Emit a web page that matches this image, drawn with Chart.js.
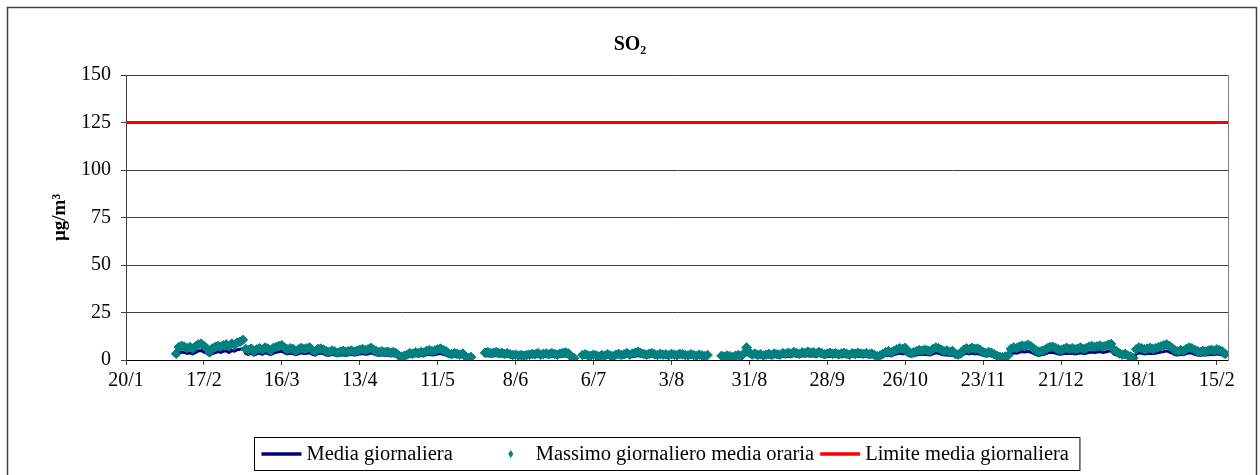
<!DOCTYPE html>
<html>
<head>
<meta charset="utf-8">
<script src="https://cdn.jsdelivr.net/npm/chart.js@4.4.0/dist/chart.umd.min.js"></script>
<style>
  html, body { margin: 0; padding: 0; background: #fff; }
  #wrap { width: 1260px; height: 475px; }
</style>
</head>
<body>
<div id="wrap"><canvas id="so2Chart" width="1260" height="475"></canvas></div>
<script>
// x axis: days counted from 20/1, one tick every 28 days
const xTickLabels = ['20/1', '17/2', '16/3', '13/4', '11/5', '8/6', '6/7', '3/8', '31/8', '28/9', '26/10', '23/11', '21/12', '18/1', '15/2'];
const tickStepDays = 28;
const firstDay = 18;   // first measured day (7/2)
const limiteGiornaliero = 125;

// Massimo giornaliero media oraria (µg/m³), one value per day, null = no data
const massimoOrario = [
  3.3, 6.8, 7.5, 7.0, 6.2, 6.8, 6.0, 7.2, 8.2, 8.6, 7.4, 6.2, 4.2, 6.0,
  6.8, 7.4, 7.0, 7.8, 8.2, 7.2, 8.6, 8.0, 9.2, 9.6, 10.6, 5.8, 5.2, 6.0,
  4.6, 5.6, 6.2, 5.4, 6.6, 6.0, 5.0, 6.4, 6.8, 7.4, 7.8, 6.4, 5.6, 6.2,
  5.8, 4.8, 5.6, 6.4, 5.8, 6.2, 6.6, 5.2, 4.6, 5.8, 6.0, 5.4, 4.6, 4.2,
  5.0, 4.6, 3.8, 4.4, 4.8, 4.2, 4.6, 5.0, 4.4, 4.8, 5.4, 5.8, 5.2, 5.6,
  6.4, 5.4, 4.6, 4.2, 4.6, 4.0, 4.4, 3.8, 4.2, 3.6, 2.4, 1.8, 2.2, 2.8,
  3.6, 3.2, 4.0, 3.6, 4.2, 3.8, 4.8, 5.2, 4.6, 5.0, 5.6, 6.0, 5.2, 4.6,
  3.4, 3.0, 3.6, 3.2, 2.8, 3.4, 1.8, 1.2, 1.6,
  null, null, null, null,
  3.8, 4.2, 3.6, 3.8, 4.2, 3.6, 3.8, 3.2, 3.6, 3.0, 2.6, 2.8, 2.4, 2.6,
  2.2, 2.6, 2.8, 3.2, 3.0, 3.6, 2.8, 3.2, 3.4, 3.0, 3.6, 3.2, 2.8, 3.4,
  3.6, 4.0, 3.4, 1.6, 1.0,
  null, null,
  2.6, 3.0, 2.4, 2.2, 2.8, 2.4, 1.8, 2.6, 2.2, 3.0, 2.4, 2.0, 2.8, 3.2,
  2.6, 3.0, 3.6, 2.8, 3.4, 3.8, 4.4, 3.6, 3.2, 2.8, 3.2, 3.6, 3.0, 2.6,
  3.2, 2.8, 3.0, 2.4, 3.2, 2.8, 2.6, 3.2, 3.0, 2.6, 2.4, 3.0, 2.6, 2.2, 2.8, 2.4, 2.0, 2.6,
  null, null, null, null,
  2.2, 1.8, 2.4, 2.0, 1.6, 2.2, 2.6, 2.0, 3.4, 6.6, 4.2, 2.8, 3.4, 2.6,
  3.0, 2.4, 2.8, 3.2, 2.6, 3.4, 3.0, 2.8, 3.6, 3.2, 3.8, 3.4, 4.2, 3.6,
  3.2, 4.0, 3.6, 4.4, 3.8, 4.0, 3.4, 4.2, 3.6, 3.0, 3.4, 3.8, 3.2, 3.6,
  3.0, 3.4, 3.8, 3.2, 2.8, 3.6, 3.2, 3.8, 3.4, 3.2, 3.6, 3.0, 3.4, 2.6,
  2.0, 2.4, 3.2, 4.2, 4.6, 4.0, 4.8, 5.6, 6.2, 5.8, 6.4, 4.2, 3.6, 4.0,
  4.6, 5.2, 4.8, 5.4, 5.0, 4.6, 5.8, 6.6, 6.2, 5.4, 4.6, 5.0, 4.2, 4.8,
  3.2, 2.8, 3.4, 5.4, 6.2, 5.6, 6.4, 5.8, 6.0, 5.2, 4.2, 3.6, 4.2, 3.8,
  3.0, 2.2, 1.6, 1.4, 1.8, 2.4, 5.8, 6.6, 6.2, 7.0, 7.6, 7.2, 8.0, 7.4,
  6.2, 5.0, 4.4, 4.8, 5.2, 6.2, 6.8, 7.0, 6.4, 5.6, 5.2, 5.8, 6.4, 5.8,
  6.2, 5.6, 6.0, 6.6, 5.8, 6.2, 7.0, 7.4, 6.8, 7.2, 7.6, 7.0, 7.4, 8.0,
  8.4, 5.4, 4.6, 3.4, 2.8, 3.2, 2.4, 1.8, 1.0, 5.6, 6.6, 6.2, 5.6, 6.0,
  6.4, 5.8, 6.2, 6.8, 7.2, 7.8, 8.2, 7.4, 6.2, 5.0, 4.6, 5.2, 4.8, 5.8,
  6.6, 6.2, 5.4, 4.6, 4.2, 4.8, 4.4, 5.0, 5.4, 4.8, 5.6, 5.2, 4.4, 3.2
];

// Media giornaliera (µg/m³), same days
const mediaGiornaliera = [
  1.8, 3.4, 4.2, 4.0, 3.4, 3.8, 3.2, 4.0, 4.8, 5.0, 4.2, 3.6, 2.4, 3.4,
  3.8, 4.4, 4.0, 4.6, 4.8, 4.0, 5.0, 4.6, 5.4, 5.6, 6.0, 3.4, 3.0, 3.6,
  2.6, 3.2, 3.6, 3.0, 3.8, 3.4, 2.8, 3.6, 4.0, 4.4, 4.6, 3.8, 3.2, 3.6,
  3.4, 2.8, 3.2, 3.8, 3.4, 3.6, 3.8, 3.0, 2.6, 3.4, 3.6, 3.2, 2.6, 2.4,
  3.0, 2.6, 2.2, 2.6, 2.8, 2.4, 2.8, 3.0, 2.6, 2.8, 3.2, 3.4, 3.0, 3.2,
  3.8, 3.2, 2.8, 2.4, 2.8, 2.4, 2.6, 2.2, 2.4, 2.0, 1.4, 1.0, 1.2, 1.6,
  2.0, 1.8, 2.4, 2.0, 2.4, 2.2, 2.8, 3.0, 2.6, 2.8, 3.2, 3.4, 3.0, 2.6,
  2.0, 1.8, 2.0, 1.8, 1.6, 2.0, 1.0, 0.8, 1.0,
  null, null, null, null,
  2.2, 2.4, 2.0, 2.2, 2.4, 2.0, 2.2, 1.8, 2.0, 1.8, 1.4, 1.6, 1.4, 1.4,
  1.2, 1.4, 1.6, 1.8, 1.6, 2.0, 1.6, 1.8, 2.0, 1.6, 2.0, 1.8, 1.6, 2.0,
  2.0, 2.2, 1.8, 1.0, 0.6,
  null, null,
  1.4, 1.6, 1.4, 1.2, 1.6, 1.4, 1.0, 1.4, 1.2, 1.6, 1.4, 1.2, 1.6, 1.8,
  1.4, 1.6, 2.0, 1.6, 1.8, 2.0, 2.4, 2.0, 1.8, 1.6, 1.8, 2.0, 1.6, 1.4,
  1.8, 1.6, 1.6, 1.4, 1.8, 1.6, 1.4, 1.8, 1.6, 1.4, 1.4, 1.6, 1.4, 1.2, 1.6, 1.4, 1.2, 1.4,
  null, null, null, null,
  1.2, 1.0, 1.4, 1.2, 1.0, 1.2, 1.4, 1.2, 1.8, 3.2, 2.2, 1.6, 1.8, 1.4,
  1.6, 1.4, 1.6, 1.8, 1.4, 1.8, 1.6, 1.6, 2.0, 1.8, 2.0, 1.8, 2.4, 2.0,
  1.8, 2.2, 2.0, 2.4, 2.0, 2.2, 1.8, 2.4, 2.0, 1.6, 1.8, 2.0, 1.8, 2.0,
  1.6, 1.8, 2.0, 1.8, 1.6, 2.0, 1.8, 2.0, 1.8, 1.8, 2.0, 1.6, 1.8, 1.4,
  1.2, 1.4, 1.8, 2.4, 2.6, 2.2, 2.8, 3.2, 3.6, 3.2, 3.6, 2.4, 2.0, 2.2,
  2.6, 3.0, 2.8, 3.0, 2.8, 2.6, 3.2, 3.8, 3.6, 3.0, 2.6, 2.8, 2.4, 2.6,
  1.8, 1.6, 2.0, 3.0, 3.6, 3.2, 3.6, 3.2, 3.4, 3.0, 2.4, 2.0, 2.4, 2.2,
  1.8, 1.2, 1.0, 0.8, 1.0, 1.4, 3.2, 3.8, 3.6, 4.0, 4.4, 4.2, 4.6, 4.2,
  3.6, 2.8, 2.4, 2.8, 3.0, 3.6, 4.0, 4.0, 3.6, 3.2, 3.0, 3.4, 3.6, 3.4,
  3.6, 3.2, 3.4, 3.8, 3.4, 3.6, 4.0, 4.2, 4.0, 4.2, 4.4, 4.0, 4.2, 4.6,
  4.8, 3.2, 2.6, 2.0, 1.6, 1.8, 1.4, 1.0, 0.6, 3.2, 3.8, 3.6, 3.2, 3.4,
  3.6, 3.4, 3.6, 4.0, 4.2, 4.4, 4.8, 4.2, 3.6, 2.8, 2.6, 3.0, 2.8, 3.4,
  3.8, 3.6, 3.0, 2.6, 2.4, 2.8, 2.6, 2.8, 3.0, 2.8, 3.2, 3.0, 2.6, 1.8
];

const FONT = '"Liberation Serif", "Times New Roman", serif';
const NAVY = '#000080';
const TEAL = '#008080';
const RED = '#ff0000';

const xMax = 396;
const toPoints = arr => arr.map((v, i) => ({ x: firstDay + i, y: v }));

const legendItems = [
  { text: 'Media giornaliera', kind: 'line', color: NAVY, gapAfter: 38 },
  { text: 'Massimo giornaliero media oraria', kind: 'diamond', color: TEAL, gapAfter: 6 },
  { text: 'Limite media giornaliera', kind: 'line', color: RED, gapAfter: 0 }
];

const framePlugin = {
  id: 'frame',
  beforeDraw(chart) {
    const ctx = chart.ctx;
    ctx.save();
    ctx.fillStyle = '#fff';
    ctx.fillRect(0, 0, chart.width, chart.height);
    ctx.restore();
  },
  afterDraw(chart) {
    const { ctx, chartArea: a } = chart;
    ctx.save();
    // outer frame
    ctx.strokeStyle = '#404040';
    ctx.lineWidth = 1.5;
    ctx.strokeRect(7.5, 7.5, 1249, 500);

    // legend
    ctx.font = '20.5px ' + FONT;
    ctx.textBaseline = 'middle';
    const symW = 40, textGap = 5;
    let total = 0;
    legendItems.forEach(it => { total += symW + textGap + ctx.measureText(it.text).width + it.gapAfter; });
    const boxW = total + 18;
    const boxLeft = Math.round((a.left + a.right) / 2 - 10 - boxW / 2) + 0.5;
    const boxTop = a.bottom + 77.5;
    const boxH = 33;
    ctx.strokeStyle = '#000';
    ctx.lineWidth = 1;
    ctx.strokeRect(boxLeft, boxTop, boxW, boxH);
    const cy = boxTop + boxH / 2;
    let x = boxLeft + 7;
    legendItems.forEach(it => {
      if (it.kind === 'line') {
        ctx.strokeStyle = it.color;
        ctx.lineWidth = 3.5;
        ctx.beginPath();
        ctx.moveTo(x, cy);
        ctx.lineTo(x + symW, cy);
        ctx.stroke();
      } else {
        const mx = x + symW / 2;
        ctx.fillStyle = it.color;
        ctx.beginPath();
        ctx.moveTo(mx, cy - 4);
        ctx.lineTo(mx + 2.5, cy);
        ctx.lineTo(mx, cy + 4);
        ctx.lineTo(mx - 2.5, cy);
        ctx.closePath();
        ctx.fill();
      }
      x += symW + textGap;
      ctx.fillStyle = '#000';
      ctx.fillText(it.text, x, cy + 1);
      x += ctx.measureText(it.text).width + it.gapAfter;
    });
    ctx.restore();
  }
};

const ctx = document.getElementById('so2Chart').getContext('2d');
new Chart(ctx, {
  type: 'line',
  data: {
    datasets: [
      {
        label: 'Massimo giornaliero media oraria',
        data: toPoints(massimoOrario),
        showLine: false,
        pointStyle: 'rectRot',
        pointRadius: 4.8,
        pointBackgroundColor: TEAL,
        pointBorderColor: TEAL,
        pointBorderWidth: 1,
        order: 0
      },
      {
        label: 'Media giornaliera',
        data: toPoints(mediaGiornaliera),
        borderColor: NAVY,
        borderWidth: 3,
        pointRadius: 0,
        spanGaps: false,
        tension: 0,
        order: 1
      },
      {
        label: 'Limite media giornaliera',
        data: [{ x: 0, y: limiteGiornaliero }, { x: xMax, y: limiteGiornaliero }],
        borderColor: RED,
        borderWidth: 3,
        pointRadius: 0,
        order: 2
      }
    ]
  },
  options: {
    responsive: false,
    animation: false,
    layout: { padding: { top: 0, left: 0, right: 0, bottom: 75 } },
    plugins: {
      legend: { display: false },
      tooltip: { enabled: false },
      title: {
        display: true,
        text: 'SO₂',
        color: '#000',
        font: { family: FONT, size: 20, weight: 'bold' },
        padding: { top: 33, bottom: 18 }
      }
    },
    scales: {
      x: {
        type: 'linear',
        min: 0,
        max: xMax,
        afterBuildTicks: axis => { axis.ticks = xTickLabels.map((t, i) => ({ value: i * tickStepDays })); },
        afterFit: scale => { scale.height = 40; },
        ticks: {
          autoSkip: false,
          maxRotation: 0,
          color: '#000',
          padding: 4,
          font: { family: FONT, size: 20 },
          callback: v => xTickLabels[Math.round(v / tickStepDays)]
        },
        grid: { drawOnChartArea: false, drawTicks: true, tickLength: 5, color: '#404040' },
        border: { color: '#000', width: 1 }
      },
      y: {
        min: 0,
        max: 150,
        afterFit: scale => { scale.width = 126; },
        ticks: {
          stepSize: 25,
          color: '#000',
          padding: 10,
          font: { family: FONT, size: 20 }
        },
        grid: { color: '#404040', tickLength: 5 },
        border: { color: '#404040' },
        title: {
          display: true,
          text: 'µg/m³',
          color: '#000',
          font: { family: FONT, size: 19, weight: 'bold' },
          padding: { top: 49, bottom: 0 }
        }
      },
      y2: {
        position: 'right',
        min: 0,
        max: 150,
        afterFit: scale => { scale.width = 32; },
        ticks: { display: false },
        grid: { drawOnChartArea: false, drawTicks: false },
        border: { color: '#808080' }
      }
    }
  },
  plugins: [framePlugin]
});
</script>
</body>
</html>
